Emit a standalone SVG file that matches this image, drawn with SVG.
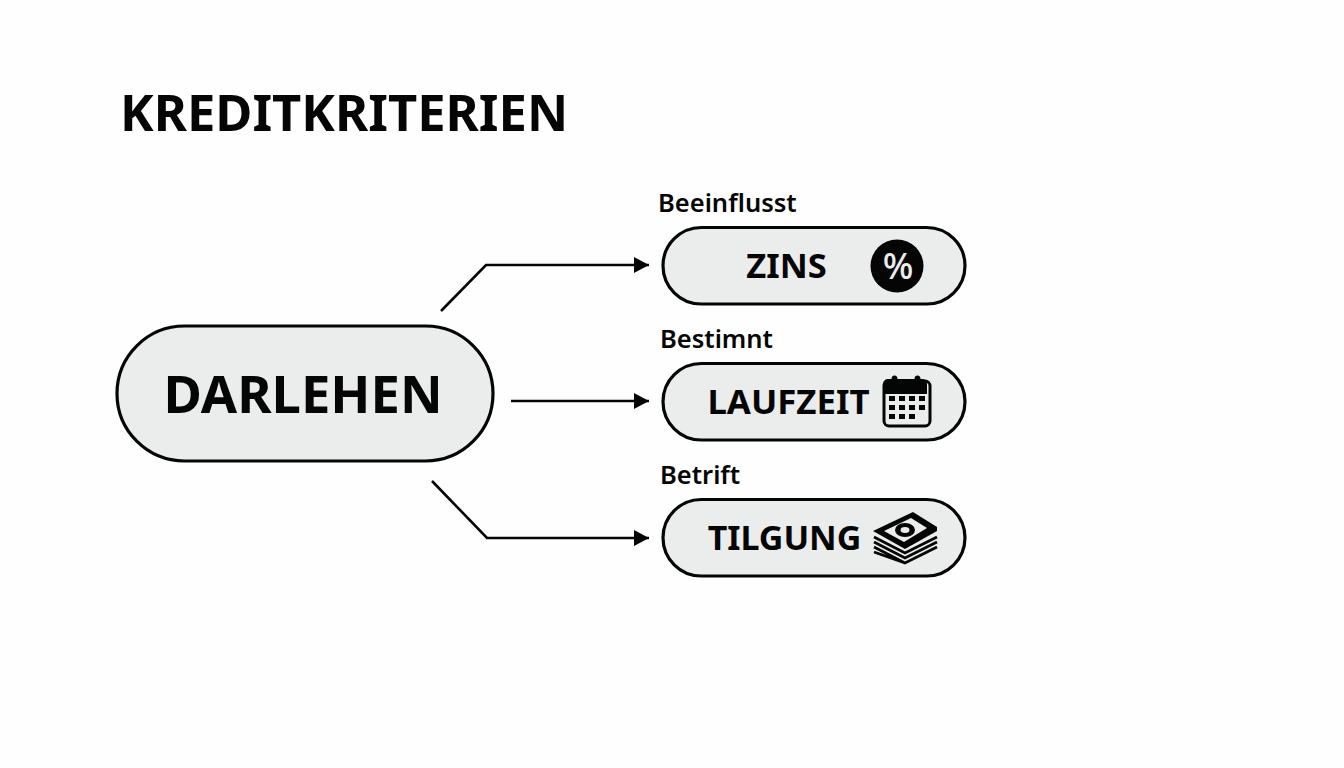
<svg xmlns="http://www.w3.org/2000/svg" width="1344" height="768" viewBox="0 0 1344 768">
<style>
text{font-family:"Noto Sans","Open Sans","Liberation Sans",sans-serif;fill:#050505;text-anchor:middle}
.title{font-size:50.700px;font-weight:700;text-anchor:start}
.main{font-size:52.500px;font-weight:700}
.lab{font-weight:700}
.cap{font-size:25.500px;font-weight:600;text-anchor:start}
.pill{fill:#ebecec;stroke:#050505;stroke-width:3.200}
.con{fill:none;stroke:#050505;stroke-width:2.600;marker-end:url(#ah)}
.k{fill:#050505}
</style>
<defs><marker id="ah" markerUnits="userSpaceOnUse" markerWidth="18" markerHeight="20" refX="16" refY="10" orient="auto"><path d="M1 2L16 10L1 18Z" fill="#050505"/></marker></defs>
<rect width="1344" height="768" fill="#fdfefd"/>
<text id="title" class="title" x="120" y="131">KREDITKRITERIEN</text>
<g id="connectors">
<path class="con" d="M441 311L486 265H649"/>
<path class="con" d="M511 401H649"/>
<path class="con" d="M432 481L487 538H649"/>
</g>
<g id="darlehen"><rect class="pill" x="117" y="326" width="376" height="135" rx="67.500"/><text class="main" x="303" y="413">DARLEHEN</text></g>
<g id="zins"><text class="cap" x="658" y="212">Beeinflusst</text><rect class="pill" x="663" y="227.500" width="302" height="76.500" rx="38.250"/><text class="lab" x="786.500" y="278" style="font-size:34.500px">ZINS</text><circle class="k" cx="897" cy="266" r="26.500"/><text x="898" y="279" style="font-size:36px;font-weight:500;fill:#ebecec">%</text></g>
<g id="laufzeit"><text class="cap" x="660" y="348">Bestimnt</text><rect class="pill" x="663" y="363.500" width="302" height="76.500" rx="38.250"/><text class="lab" x="788.500" y="414" style="font-size:34.800px">LAUFZEIT</text>
<rect x="884" y="381" width="46" height="45" rx="5" fill="none" stroke="#050505" stroke-width="3"/><path class="k" d="M883 394V384a5 5 0 0 1 5-5h3.500a3 3.500 0 0 1 6 0h17a3 3.500 0 0 1 6 0h1.500a5 5 0 0 1 5 5V394Z"/>
<path class="k" d="M889 396h6v5h-6zM899 396h6v5h-6zM909 396h6v5h-6zM919 396h6v5h-6zM889 405h6v5h-6zM899 405h6v5h-6zM909 405h6v5h-6zM919 405h6v5h-6zM889 414h6v5h-6zM899 414h6v5h-6zM909 414h6v5h-6z"/></g>
<g id="tilgung"><text class="cap" x="660" y="484">Betrift</text><rect class="pill" x="663" y="499.500" width="302" height="76.500" rx="38.250"/><text class="lab" x="784.500" y="550" style="font-size:34px">TILGUNG</text>
<path d="M874 537L905 553L937 537M874 542L905 558L937 542M874 547L905 563L937 547M874 552L905 563" fill="none" stroke="#050505" stroke-width="2.800"/>
<path class="k" d="M873 531L913 512L937 527V531L905 549Z"/><path d="M884 531L911 518L927 528L904 542Z" fill="#ebecec"/><ellipse class="k" cx="905" cy="530" rx="10" ry="7"/><ellipse cx="905" cy="530" rx="4.500" ry="3" fill="#ebecec"/></g>
</svg>
